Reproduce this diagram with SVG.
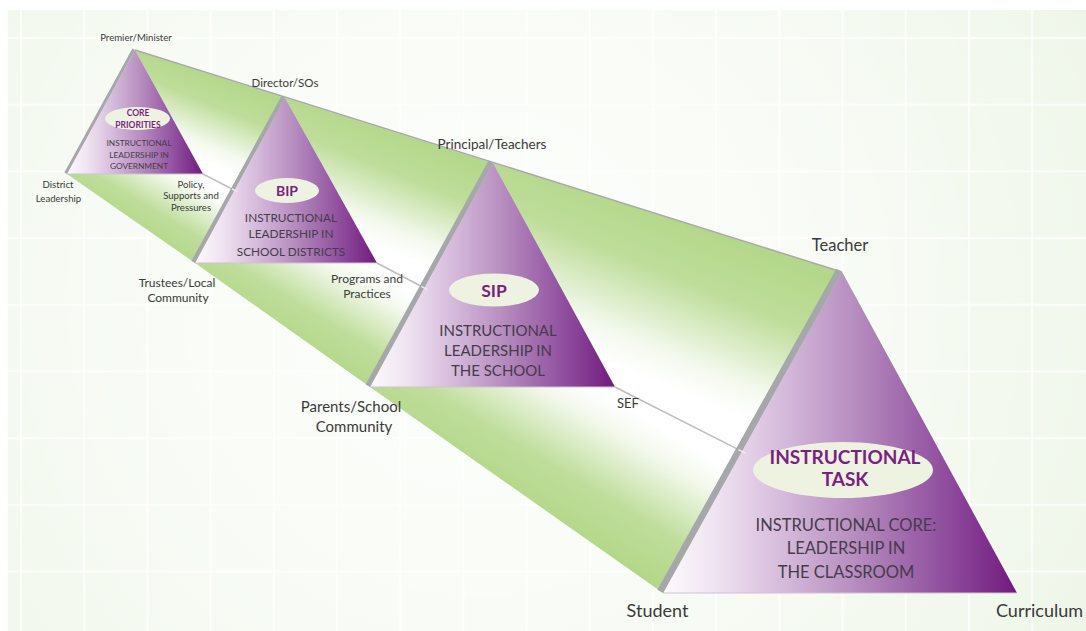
<svg xmlns="http://www.w3.org/2000/svg" width="1086" height="631" viewBox="0 0 1086 631">
<defs>
<style>
.lbl{font-family:Lato,"Open Sans","DejaVu Sans",sans-serif;fill:#3a3a3a;text-anchor:middle}
.head{font-family:Lato,"Open Sans","DejaVu Sans",sans-serif;fill:#7b1f81;font-weight:bold;text-anchor:middle}
.sub{font-family:Lato,"Open Sans","DejaVu Sans",sans-serif;fill:#463c4a;text-anchor:middle}
.tri{fill:url(#purp)}
.edge{stroke:#a6a7aa;stroke-linecap:butt;fill:none}
.base{stroke:#cbc4ce;stroke-width:1.2;fill:none}
.oval{fill:#eef2e1}
.conn{stroke:#bdbdbd;stroke-width:1.5;fill:none}
.notch{stroke:#ececec;stroke-width:1.5;fill:none}
.g0{stop-color:#b4d88b}
.g1{stop-color:#bedd9a}
.g2{stop-color:#f4f9ee}
.g3{stop-color:#ffffff}
</style>
<pattern id="grid" patternUnits="userSpaceOnUse" x="20" y="37" width="63.2" height="66.7">
<rect width="63.2" height="66.7" fill="#eef6e8"/>
<rect width="63.2" height="2" fill="#ffffff" opacity="0.8"/>
<rect width="2" height="66.7" fill="#ffffff" opacity="0.8"/>
</pattern>
<radialGradient id="glow" gradientUnits="userSpaceOnUse" cx="480" cy="300" r="700">
<stop offset="0" stop-color="#ffffff" stop-opacity="0.9"/>
<stop offset="0.55" stop-color="#ffffff" stop-opacity="0.55"/>
<stop offset="1" stop-color="#ffffff" stop-opacity="0"/>
</radialGradient>
<linearGradient id="purp" x1="0" y1="0" x2="1" y2="0">
<stop offset="0" stop-color="#fdfafd"/>
<stop offset="0.15" stop-color="#efe3f1"/>
<stop offset="0.35" stop-color="#d4b8da"/>
<stop offset="0.55" stop-color="#b58bbe"/>
<stop offset="0.78" stop-color="#9252a0"/>
<stop offset="1" stop-color="#711a7e"/>
</linearGradient>
<linearGradient id="u1" gradientUnits="userSpaceOnUse" x1="210" y1="73.6" x2="174.8" y2="159.5">
<stop offset="0" class="g0"/><stop offset="0.3" class="g1"/><stop offset="0.72" class="g2"/><stop offset="0.9" class="g3"/>
</linearGradient>
<linearGradient id="u2" gradientUnits="userSpaceOnUse" x1="390" y1="130" x2="342.6" y2="245.6">
<stop offset="0" class="g0"/><stop offset="0.3" class="g1"/><stop offset="0.72" class="g2"/><stop offset="0.9" class="g3"/>
</linearGradient>
<linearGradient id="u3" gradientUnits="userSpaceOnUse" x1="667" y1="217" x2="600.7" y2="378.7">
<stop offset="0" class="g0"/><stop offset="0.3" class="g1"/><stop offset="0.72" class="g2"/><stop offset="0.9" class="g3"/>
</linearGradient>
<linearGradient id="d1" gradientUnits="userSpaceOnUse" x1="214.9" y1="277.9" x2="260" y2="203.3">
<stop offset="0" class="g0"/><stop offset="0.3" class="g1"/><stop offset="0.72" class="g2"/><stop offset="0.9" class="g3"/>
</linearGradient>
<linearGradient id="d2" gradientUnits="userSpaceOnUse" x1="389.8" y1="400.8" x2="450" y2="301.1">
<stop offset="0" class="g0"/><stop offset="0.3" class="g1"/><stop offset="0.72" class="g2"/><stop offset="0.9" class="g3"/>
</linearGradient>
<linearGradient id="d3" gradientUnits="userSpaceOnUse" x1="583" y1="536.8" x2="660" y2="409.2">
<stop offset="0" class="g0"/><stop offset="0.3" class="g1"/><stop offset="0.72" class="g2"/><stop offset="0.9" class="g3"/>
</linearGradient>
</defs>

<g id="background">
<rect width="1086" height="631" fill="url(#grid)"/>
<rect width="1086" height="631" fill="url(#glow)"/>
<rect width="1086" height="10" fill="#ffffff"/>
<rect width="8" height="631" fill="#ffffff"/>
</g>

<g id="prism-faces">
<polygon points="135,50 285,98 377,263 203,174" fill="url(#u1)"/>
<polygon points="285,98 493,163 615,387 377,263" fill="url(#u2)"/>
<polygon points="493,163 842,272 1017,593 615,387" fill="url(#u3)"/>
<polygon points="203,174 377,263 195,263 67,174" fill="url(#d1)"/>
<polygon points="377,263 615,387 370,387 195,263" fill="url(#d2)"/>
<polygon points="615,387 1017,593 663,593 370,387" fill="url(#d3)"/>
<line x1="135" y1="50" x2="842" y2="272" stroke="#a8aaa6" stroke-width="1.5"/>
</g>

<g id="connectors">
<line class="conn" x1="203" y1="174" x2="234.7" y2="190.3"/>
<line class="conn" x1="377" y1="263" x2="424.4" y2="288"/>
<line class="conn" x1="615" y1="387" x2="742" y2="451.4"/>
</g>

<g id="node-core-priorities">
<polygon class="tri" points="135,50 203,174 67,174"/>
<line class="base" x1="67" y1="174" x2="203" y2="174"/>
<line class="edge" stroke-width="3" x1="133.7" y1="49.3" x2="65.7" y2="173.3"/>
<ellipse class="oval" cx="137.5" cy="118.5" rx="32.5" ry="11.5"/>
<text class="head" x="138" y="116" font-size="8.5">CORE</text>
<text class="head" x="138" y="127.5" font-size="8.5">PRIORITIES</text>
<text class="sub" x="139" y="146" font-size="8.3">INSTRUCTIONAL</text>
<text class="sub" x="139" y="157.5" font-size="8.3">LEADERSHIP IN</text>
<text class="sub" x="139" y="169" font-size="8.3">GOVERNMENT</text>
</g>

<g id="node-bip">
<polygon class="tri" points="285,98 377,263 195,263"/>
<line class="base" x1="195" y1="263" x2="377" y2="263"/>
<line class="edge" stroke-width="4" x1="283.2" y1="97" x2="193.2" y2="262"/>
<line class="notch" x1="232" y1="189" x2="237.4" y2="191.7"/>
<ellipse class="oval" cx="287" cy="190.5" rx="32" ry="12.5"/>
<text class="head" x="287" y="195.5" font-size="14">BIP</text>
<text class="sub" x="291" y="221.5" font-size="11.8">INSTRUCTIONAL</text>
<text class="sub" x="291" y="238" font-size="11.8">LEADERSHIP IN</text>
<text class="sub" x="291" y="255.5" font-size="11.8">SCHOOL DISTRICTS</text>
</g>

<g id="node-sip">
<polygon class="tri" points="493,163 615,387 370,387"/>
<line class="base" x1="370" y1="387" x2="615" y2="387"/>
<line class="edge" stroke-width="5" x1="490.8" y1="161.8" x2="367.8" y2="385.8"/>
<line class="notch" x1="421.3" y1="286.4" x2="427.5" y2="289.6"/>
<ellipse class="oval" cx="494" cy="290" rx="45" ry="16.5"/>
<text class="head" x="494" y="296.5" font-size="17.5">SIP</text>
<text class="sub" x="498" y="335.5" font-size="15">INSTRUCTIONAL</text>
<text class="sub" x="498" y="355.5" font-size="15">LEADERSHIP IN</text>
<text class="sub" x="498" y="375.5" font-size="15">THE SCHOOL</text>
</g>

<g id="node-instructional-task">
<polygon class="tri" points="842,272 1017,593 663,593"/>
<line class="base" x1="663" y1="593" x2="1017" y2="593"/>
<line class="edge" stroke-width="6.5" x1="839.2" y1="270.4" x2="660.2" y2="591.4"/>
<line class="notch" x1="738.4" y1="449.6" x2="745.6" y2="453.2"/>
<ellipse class="oval" cx="843" cy="470" rx="90" ry="28"/>
<text class="head" x="845" y="464" font-size="19">INSTRUCTIONAL</text>
<text class="head" x="845" y="485.5" font-size="19">TASK</text>
<text class="sub" x="846" y="531" font-size="16.5">INSTRUCTIONAL CORE:</text>
<text class="sub" x="846" y="554" font-size="16.5">LEADERSHIP IN</text>
<text class="sub" x="846" y="578" font-size="16.5">THE CLASSROOM</text>
</g>

<g id="labels">
<text class="lbl" x="136" y="40.5" font-size="9.6">Premier/Minister</text>
<text class="lbl" x="285" y="87" font-size="11.5">Director/SOs</text>
<text class="lbl" x="492" y="148.5" font-size="13.5">Principal/Teachers</text>
<text class="lbl" x="840" y="251" font-size="16.5">Teacher</text>
<text class="lbl" x="58" y="188" font-size="9.6">District</text>
<text class="lbl" x="58.5" y="201.5" font-size="9.6">Leadership</text>
<text class="lbl" x="191" y="187.5" font-size="9.6">Policy,</text>
<text class="lbl" x="191" y="199" font-size="9.6">Supports and</text>
<text class="lbl" x="191" y="210.5" font-size="9.6">Pressures</text>
<text class="lbl" x="177" y="286.5" font-size="12">Trustees/Local</text>
<text class="lbl" x="178" y="301.5" font-size="12">Community</text>
<text class="lbl" x="367" y="283" font-size="12">Programs and</text>
<text class="lbl" x="367" y="297.5" font-size="12">Practices</text>
<text class="lbl" x="351" y="412" font-size="15">Parents/School</text>
<text class="lbl" x="354" y="432" font-size="15">Community</text>
<text class="lbl" x="628" y="408" font-size="13">SEF</text>
<text class="lbl" x="657.5" y="616.5" font-size="18">Student</text>
<text class="lbl" x="1039.5" y="616.5" font-size="18">Curriculum</text>
</g>
</svg>
